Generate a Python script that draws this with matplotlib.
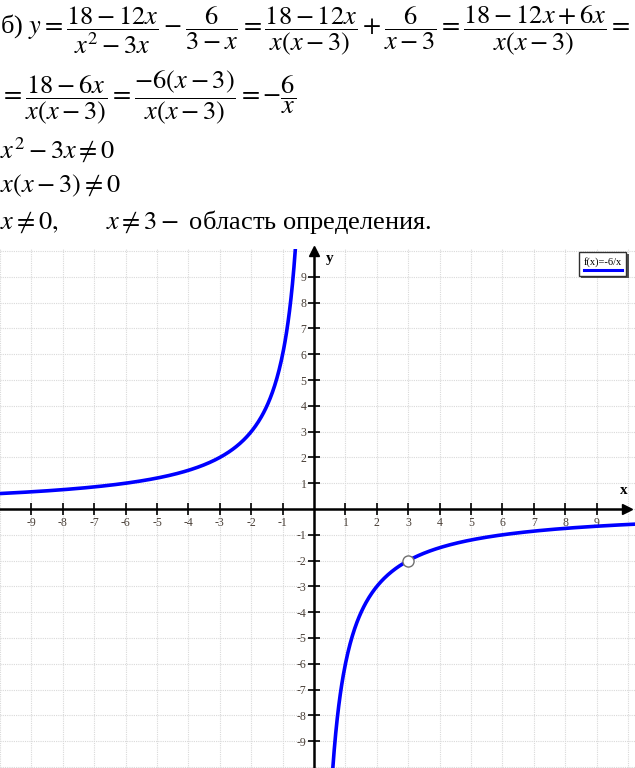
import numpy as np
import matplotlib
matplotlib.use("Agg")
import matplotlib.pyplot as plt
from matplotlib.patches import Rectangle
from matplotlib.lines import Line2D

plt.rcParams['font.family'] = ['Liberation Serif', 'DejaVu Serif']
plt.rcParams['mathtext.fontset'] = 'stix'

# ---- data ----
k = -6                      # f(x) = k / x
x_left_domain = [-10.0, -0.594]
x_right_domain = [0.594, 10.22]
hole_x = [3]
hole_y = [-2]
xticks = [-9, -8, -7, -6, -5, -4, -3, -2, -1, 1, 2, 3, 4, 5, 6, 7, 8, 9]
yticks = [-9, -8, -7, -6, -5, -4, -3, -2, -1, 1, 2, 3, 4, 5, 6, 7, 8, 9]
legend_label = "f(x)=-6/x"

text_lines = [
    r"б) $y = \dfrac{18-12x}{x^2-3x} - \dfrac{6}{3-x} = \dfrac{18-12x}{x(x-3)} + \dfrac{6}{x-3} = \dfrac{18-12x+6x}{x(x-3)} =$",
    r"$= \dfrac{18-6x}{x(x-3)} = \dfrac{-6(x-3)}{x(x-3)} = -\dfrac{6}{x}$",
    r"$x^2 - 3x \neq 0$",
    r"$x(x-3) \neq 0$",
    r"$x \neq 0,\qquad\ x \neq 3 -$ область определения.",
]
text_y_px = [30, 97, 150, 186, 222]

W, H = 635, 768
fig = plt.figure(figsize=(W / 100, H / 100), dpi=100)

for s, ypx in zip(text_lines, text_y_px):
    fig.text(0.0, 1 - ypx / H, s, fontsize=19, va='center', ha='left', color='black')

top_px = 249
ax = fig.add_axes([0, 0, 1, (H - top_px) / H])
ax.set_xlim(-10.0, 10.22)
ax.set_ylim(-10.04, 10.08)

# grid
for v in range(-10, 11):
    ax.axvline(v, color='#d9d9d9', lw=0.8, ls=(0, (1, 1)), zorder=0)
    ax.axhline(v, color='#d9d9d9', lw=0.8, ls=(0, (1, 1)), zorder=0)

# spines as axes
for s in ['top', 'right']:
    ax.spines[s].set_visible(False)
ax.spines['left'].set_position(('data', 0))
ax.spines['bottom'].set_position(('data', 0))
ax.spines['left'].set_linewidth(1.8)
ax.spines['bottom'].set_linewidth(1.8)
ax.spines['bottom'].set_bounds(-10.0, 9.9)
ax.spines['left'].set_bounds(-10.04, 10.0)
ax.plot(9.95, 0, '>k', markersize=7, clip_on=False, zorder=5)
ax.plot(0, 10.02, '^k', markersize=7, clip_on=False, zorder=5)

ax.set_xticks(xticks)
ax.set_yticks(yticks)
ax.set_xticklabels([str(t) for t in xticks])
ax.set_yticklabels([str(t) for t in yticks])
ax.tick_params(direction='inout', length=9, width=1.2, labelsize=8.5, colors='black',
               labelcolor='#4a4038', pad=1)

ax.text(9.85, 0.45, 'x', fontsize=11, fontweight='bold', ha='center', va='bottom')
ax.text(0.5, 9.7, 'y', fontsize=11, fontweight='bold', ha='center', va='center')

# curve
xl = np.linspace(x_left_domain[0], x_left_domain[1], 400)
xr = np.linspace(x_right_domain[0], x_right_domain[1], 400)
ax.plot(xl, k / xl, color='#0000ff', lw=2.6, zorder=3)
ax.plot(xr, k / xr, color='#0000ff', lw=2.6, zorder=3)
ax.plot(hole_x, hole_y, 'o', ms=8, mfc='white', mec='#707070', mew=1, zorder=4)

# legend box
fax = fig.add_axes([579 / W, 1 - 278 / H, 50 / W, 26 / H])
fax.set_xlim(0, 1); fax.set_ylim(0, 1)
fax.axis('off')
fax.add_patch(Rectangle((0.04, 0.0), 0.96, 0.92, facecolor='#505050', edgecolor='none', transform=fax.transAxes, clip_on=False))
fax.add_patch(Rectangle((0.0, 0.08), 0.94, 0.92, facecolor='white', edgecolor='#303030', lw=1, transform=fax.transAxes, clip_on=False))
fax.text(0.47, 0.62, legend_label, fontsize=7.5, ha='center', va='center', color='black')
fax.add_line(Line2D([0.1, 0.86], [0.3, 0.3], color='#0000ff', lw=2.2))

fig.savefig('out.png', dpi=100)
